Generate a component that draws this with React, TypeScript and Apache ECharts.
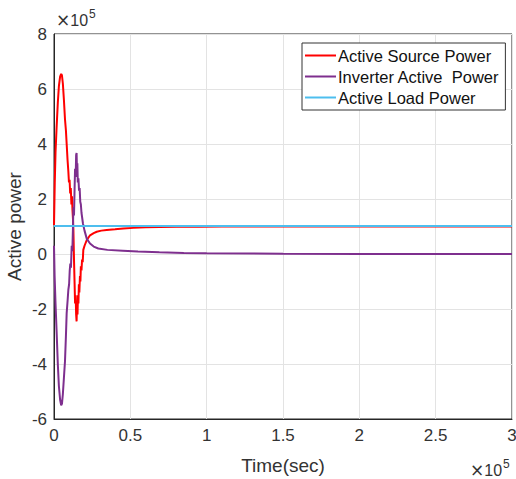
import React, { useEffect, useRef } from "react";
import * as echarts from "echarts";

// time in units of 1e5 (as displayed with ×10^5)
const sourceTime = [0, 0.005, 0.01, 0.017, 0.025, 0.032, 0.04, 0.047, 0.052, 0.058, 0.065, 0.072, 0.078, 0.083, 0.089, 0.094, 0.098, 0.102, 0.106, 0.11, 0.114, 0.118, 0.121, 0.124, 0.127, 0.131, 0.135, 0.138, 0.142, 0.145, 0.148, 0.151, 0.154, 0.157, 0.16, 0.163, 0.166, 0.17, 0.173, 0.176, 0.18, 0.184, 0.188, 0.192, 0.2, 0.214, 0.236, 0.26, 0.28, 0.31, 0.345, 0.4, 0.454, 0.52, 0.6, 0.69, 0.8, 0.95, 1.1, 1.5, 2.0, 2.5, 3.0];
const sourceValues = [1.05, 2.6, 3.7, 4.6, 5.5, 6.1, 6.45, 6.55, 6.5, 6.2, 5.6, 4.9, 4.5, 4.0, 3.4, 3.0, 2.6, 2.7, 2.2, 2.4, 1.8, 2.1, 1.6, 1.3, 0.9, -0.2, -1.1, -1.8, -1.5, -2.2, -2.45, -1.7, -2.2, -1.5, -1.8, -1.1, -1.4, -0.8, -1.0, -0.45, -0.6, -0.2, -0.3, 0.15, 0.3, 0.5, 0.68, 0.76, 0.81, 0.85, 0.87, 0.9, 0.93, 0.95, 0.97, 0.98, 0.99, 0.995, 1.0, 1.0, 1.0, 1.0, 1.0];

const inverterTime = [0, 0.004, 0.01, 0.017, 0.025, 0.032, 0.04, 0.047, 0.052, 0.058, 0.065, 0.072, 0.078, 0.083, 0.089, 0.094, 0.099, 0.103, 0.107, 0.111, 0.116, 0.12, 0.124, 0.127, 0.131, 0.135, 0.138, 0.142, 0.145, 0.148, 0.151, 0.153, 0.156, 0.16, 0.164, 0.168, 0.172, 0.176, 0.18, 0.19, 0.2, 0.215, 0.236, 0.26, 0.29, 0.35, 0.45, 0.55, 0.69, 0.85, 1.0, 1.5, 2.0, 2.5, 3.0];
const inverterValues = [0.3, -0.8, -1.8, -2.8, -4.0, -4.8, -5.3, -5.5, -5.45, -5.1, -4.5, -3.9, -3.0, -2.15, -1.7, -1.3, -1.1, -0.6, -0.35, -0.5, 0.3, 0.1, 0.9, 1.7, 1.4, 2.4, 3.1, 2.8, 3.6, 3.67, 2.9, 3.3, 2.6, 2.75, 2.3, 2.4, 1.9, 1.8, 1.5, 1.1, 0.85, 0.55, 0.38, 0.27, 0.2, 0.15, 0.12, 0.09, 0.06, 0.04, 0.03, 0.01, 0.0, 0.0, 0.0];

const loadTime = [0, 3.0];
const loadValues = [1.02, 1.02];

const seriesNames = ["Active Source Power", "Inverter Active  Power", "Active Load Power"];
const seriesColors = ["#ff0000", "#7e2f8e", "#4dbeee"];

const xTicks = [0, 0.5, 1, 1.5, 2, 2.5, 3];
const yTicks = [-6, -4, -2, 0, 2, 4, 6, 8];

const SCALE = 1e5;

const toPairs = (t: number[], v: number[]) => t.map((x, i) => [x * SCALE, v[i] * SCALE]);

export default function App() {
  const ref = useRef<HTMLDivElement>(null);
  useEffect(() => {
    if (!ref.current) return;
    const chart = echarts.init(ref.current, undefined, { renderer: "svg" });
    const font = "'Liberation Sans', Arial, sans-serif";
    const mult = {
      text: "{a|×}{b|10}{c|5}",
      rich: {
        a: { fontSize: 17, fill: "#333", fontFamily: "'DejaVu Sans', sans-serif", verticalAlign: "bottom" },
        b: { fontSize: 16, fill: "#333", fontFamily: font, verticalAlign: "bottom" },
        c: { fontSize: 12, fill: "#333", fontFamily: font, verticalAlign: "top", padding: [0, 0, 8, 1] },
      },
    };
    chart.setOption({
      animation: false,
      textStyle: { fontFamily: font },
      grid: {
        left: 54,
        right: 4,
        top: 34,
        bottom: 60,
        outerBoundsMode: "none",
        containLabel: false,
        show: true,
        borderColor: "#262626",
        borderWidth: 1,
        backgroundColor: "#fff",
      },
      legend: {
        left: 302,
        top: 43,
        orient: "vertical",
        data: seriesNames,
        icon: "rect",
        itemWidth: 31,
        itemHeight: 2,
        itemGap: 4,
        padding: [4, 6, 4, 3],
        borderColor: "#333",
        borderWidth: 1,
        backgroundColor: "#fff",
        textStyle: { fontSize: 16.5, color: "#111", fontFamily: font, padding: [0, 0, 0, -3] },
      },
      xAxis: {
        type: "value",
        min: xTicks[0] * SCALE,
        max: xTicks[xTicks.length - 1] * SCALE,
        interval: (xTicks[1] - xTicks[0]) * SCALE,
        name: "Time(sec)",
        nameLocation: "middle",
        nameGap: 37,
        nameMoveOverlap: false,
        nameTextStyle: { fontSize: 19, color: "#333", fontFamily: font },
        axisLine: { show: true, onZero: false, lineStyle: { color: "#262626" } },
        axisTick: { show: false },
        axisLabel: {
          fontSize: 17,
          color: "#333",
          margin: 8,
          formatter: (v: number) => String(v / SCALE),
        },
        splitLine: { show: true, lineStyle: { color: "#e3e3e3", width: 1 } },
      },
      yAxis: {
        type: "value",
        min: yTicks[0] * SCALE,
        max: yTicks[yTicks.length - 1] * SCALE,
        interval: (yTicks[1] - yTicks[0]) * SCALE,
        name: "Active power",
        nameLocation: "middle",
        nameGap: 30,
        nameMoveOverlap: false,
        nameTextStyle: { fontSize: 19, color: "#333", fontFamily: font },
        axisLine: { show: true, onZero: false, lineStyle: { color: "#262626" } },
        axisTick: { show: false },
        axisLabel: {
          fontSize: 17,
          color: "#333",
          margin: 7,
          formatter: (v: number) => String(v / SCALE),
        },
        splitLine: { show: true, lineStyle: { color: "#e3e3e3", width: 1 } },
      },
      series: [
        {
          name: seriesNames[0],
          type: "line",
          data: toPairs(sourceTime, sourceValues),
          showSymbol: false,
          lineStyle: { color: seriesColors[0], width: 2 },
          itemStyle: { color: seriesColors[0] },
        },
        {
          name: seriesNames[1],
          type: "line",
          data: toPairs(inverterTime, inverterValues),
          showSymbol: false,
          lineStyle: { color: seriesColors[1], width: 2 },
          itemStyle: { color: seriesColors[1] },
        },
        {
          name: seriesNames[2],
          type: "line",
          data: toPairs(loadTime, loadValues),
          showSymbol: false,
          lineStyle: { color: seriesColors[2], width: 2 },
          itemStyle: { color: seriesColors[2] },
        },
      ],
      graphic: [
        { type: "text", left: 56, top: 8, style: mult },
        { type: "text", left: 470, top: 458, style: mult },
      ],
    });
    return () => chart.dispose();
  }, []);
  return (
    <div
      ref={ref}
      style={{ position: "absolute", left: 0, top: 0, width: 516, height: 479 }}
    />
  );
}
